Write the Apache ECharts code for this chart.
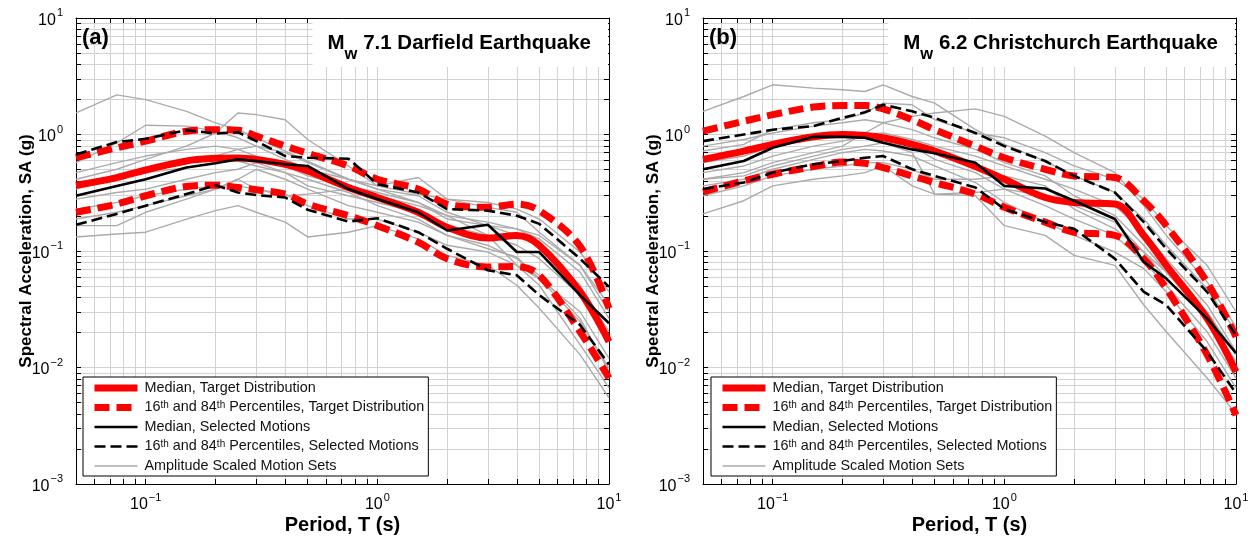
<!DOCTYPE html>
<html>
<head>
<meta charset="utf-8">
<script src="https://cdn.jsdelivr.net/npm/echarts@6/dist/echarts.min.js"></script>
<style>
  html, body { margin: 0; padding: 0; background: #fff; }
  #chart { width: 1257px; height: 540px; }
</style>
</head>
<body>
<div id="chart"></div>
<script>
// Spectral periods (s) at which every spectrum is sampled
const periods = [0.05, 0.075, 0.1, 0.15, 0.2, 0.25, 0.3, 0.4, 0.5, 0.75, 1, 1.5, 2, 3, 4, 5, 7.5, 10];

// (a) Mw 7.1 Darfield — target distribution, SA (g)
const targetMedianA = [0.367, 0.427, 0.496, 0.593, 0.624, 0.630, 0.612, 0.555, 0.487, 0.351, 0.288, 0.215, 0.160, 0.129, 0.136, 0.112, 0.0446, 0.0167];
const target84A     = [0.632, 0.769, 0.877, 1.067, 1.10, 1.09, 0.968, 0.795, 0.689, 0.537, 0.413, 0.340, 0.253, 0.237, 0.253, 0.222, 0.110, 0.0322];
const target16A     = [0.215, 0.253, 0.298, 0.358, 0.367, 0.351, 0.335, 0.308, 0.253, 0.201, 0.165, 0.119, 0.0859, 0.0729, 0.0735, 0.0619, 0.0203, 0.00813];
// (a) selected motions
const selMedianA = [0.298, 0.362, 0.413, 0.520, 0.566, 0.612, 0.592, 0.555, 0.537, 0.340, 0.279, 0.215, 0.150, 0.168, 0.098, 0.098, 0.0418, 0.024];
const sel84A     = [0.675, 0.861, 0.918, 1.09, 1.02, 1.047, 0.877, 0.653, 0.632, 0.620, 0.375, 0.318, 0.229, 0.222, 0.201, 0.171, 0.0859, 0.0492];
const sel16A     = [0.168, 0.208, 0.245, 0.308, 0.367, 0.318, 0.302, 0.288, 0.226, 0.179, 0.191, 0.145, 0.1045, 0.0683, 0.0619, 0.0418, 0.0232, 0.0106];
// (a) individual amplitude-scaled motions
const motionsA = [
  [1.53, 2.19, 1.99, 1.58, 1.26, 1.10, 0.937, 0.721, 0.592, 0.413, 0.340, 0.261, 0.188, 0.165, 0.136, 0.112, 0.0508, 0.0203],
  [0.413, 0.503, 0.612, 0.795, 1.03, 1.53, 1.48, 1.34, 0.906, 0.537, 0.362, 0.308, 0.279, 0.237, 0.215, 0.145, 0.0753, 0.0344],
  [0.573, 0.849, 1.20, 1.18, 1.07, 0.937, 0.795, 0.698, 0.573, 0.413, 0.340, 0.298, 0.215, 0.165, 0.155, 0.127, 0.0661, 0.0264],
  [0.132, 0.140, 0.145, 0.188, 0.222, 0.245, 0.215, 0.177, 0.132, 0.145, 0.165, 0.127, 0.0917, 0.0753, 0.0508, 0.0322, 0.0129, 0.0055],
  [0.165, 0.165, 0.215, 0.279, 0.340, 0.413, 0.340, 0.298, 0.308, 0.340, 0.298, 0.245, 0.201, 0.136, 0.0753, 0.0508, 0.0157, 0.00668],
  [0.340, 0.413, 0.503, 0.573, 0.653, 0.745, 0.795, 0.612, 0.503, 0.413, 0.362, 0.427, 0.279, 0.261, 0.229, 0.188, 0.098, 0.0446],
  [0.279, 0.318, 0.340, 0.413, 0.471, 0.503, 0.573, 0.471, 0.362, 0.298, 0.261, 0.215, 0.165, 0.136, 0.112, 0.0859, 0.0418, 0.0179],
  [0.471, 0.573, 0.653, 0.745, 0.795, 0.745, 0.653, 0.537, 0.441, 0.362, 0.318, 0.261, 0.201, 0.177, 0.155, 0.136, 0.0753, 0.0301],
  [0.229, 0.261, 0.298, 0.340, 0.362, 0.362, 0.340, 0.308, 0.245, 0.188, 0.188, 0.145, 0.112, 0.098, 0.0753, 0.058, 0.0301, 0.0120],
  [0.362, 0.413, 0.471, 0.520, 0.573, 0.592, 0.537, 0.471, 0.413, 0.318, 0.245, 0.188, 0.136, 0.112, 0.0859, 0.0619, 0.0264, 0.00927],
  [0.188, 0.215, 0.245, 0.298, 0.340, 0.413, 0.503, 0.413, 0.340, 0.245, 0.215, 0.177, 0.136, 0.1045, 0.089, 0.058, 0.0248, 0.0099]
];

// (b) Mw 6.2 Christchurch — target distribution, SA (g)
const targetMedianB = [0.612, 0.721, 0.822, 0.955, 1.00, 0.98, 0.937, 0.822, 0.721, 0.530, 0.413, 0.288, 0.261, 0.253, 0.136, 0.0753, 0.0264, 0.0092];
const target84B     = [1.07, 1.30, 1.48, 1.72, 1.77, 1.77, 1.66, 1.34, 1.10, 0.795, 0.632, 0.503, 0.441, 0.427, 0.270, 0.165, 0.054, 0.0184];
const target16B     = [0.322, 0.40, 0.456, 0.530, 0.580, 0.566, 0.520, 0.441, 0.387, 0.308, 0.237, 0.177, 0.145, 0.136, 0.0859, 0.0477, 0.0129, 0.0039];
// (b) selected motions
const selMedianB = [0.503, 0.592, 0.770, 0.955, 0.955, 0.937, 0.849, 0.745, 0.690, 0.573, 0.362, 0.344, 0.270, 0.188, 0.0804, 0.058, 0.0264, 0.0133];
const sel84B     = [0.877, 1.00, 1.10, 1.18, 1.39, 1.55, 1.80, 1.58, 1.39, 1.03, 0.795, 0.592, 0.441, 0.318, 0.177, 0.1045, 0.0446, 0.0189];
const sel16B     = [0.340, 0.387, 0.471, 0.555, 0.592, 0.632, 0.653, 0.503, 0.441, 0.351, 0.229, 0.177, 0.155, 0.0859, 0.0446, 0.0344, 0.0137, 0.006];
// (b) individual amplitude-scaled motions
const motionsB = [
  [1.58, 2.12, 2.67, 2.50, 2.42, 2.34, 2.67, 2.12, 1.86, 1.10, 0.822, 0.592, 0.441, 0.318, 0.188, 0.112, 0.0477, 0.0203],
  [0.413, 0.471, 0.573, 0.698, 0.795, 1.03, 1.26, 1.43, 1.53, 1.66, 1.43, 0.968, 0.698, 0.471, 0.245, 0.136, 0.0543, 0.0223],
  [0.208, 0.270, 0.362, 0.413, 0.441, 0.471, 0.537, 0.362, 0.308, 0.298, 0.165, 0.136, 0.0917, 0.0753, 0.0344, 0.0203, 0.00813, 0.0040],
  [0.721, 0.822, 1.10, 1.26, 1.34, 1.53, 1.86, 1.80, 1.34, 1.03, 0.937, 0.698, 0.537, 0.413, 0.279, 0.165, 0.0753, 0.0301],
  [0.413, 0.441, 0.537, 0.653, 0.745, 0.795, 0.849, 0.698, 0.308, 0.318, 0.340, 0.298, 0.245, 0.177, 0.098, 0.058, 0.0264, 0.0113],
  [0.573, 0.653, 0.795, 0.906, 0.968, 1.00, 1.03, 0.906, 0.795, 0.653, 0.537, 0.413, 0.340, 0.245, 0.145, 0.0859, 0.0344, 0.0137],
  [0.471, 0.537, 0.653, 0.795, 0.877, 0.968, 0.906, 0.795, 0.612, 0.471, 0.340, 0.245, 0.188, 0.136, 0.0804, 0.0508, 0.0203, 0.00813],
  [0.362, 0.413, 0.503, 0.612, 0.698, 0.745, 0.721, 0.653, 0.537, 0.387, 0.261, 0.177, 0.136, 0.098, 0.0706, 0.0446, 0.0167, 0.00668],
  [0.795, 0.906, 1.03, 1.18, 1.26, 1.34, 1.26, 1.10, 0.937, 0.745, 0.573, 0.441, 0.298, 0.201, 0.112, 0.0661, 0.0264, 0.0106],
  [0.298, 0.362, 0.441, 0.503, 0.537, 0.573, 0.573, 0.503, 0.413, 0.413, 0.441, 0.362, 0.229, 0.155, 0.098, 0.0661, 0.0301, 0.0129]
];

// Axis ranges and labelled decades
const periodRange = [0.05, 10];
const saRange = [0.001, 10];
const periodLabels = [0.1, 1, 10];
const saLabels = [0.001, 0.01, 0.1, 1, 10];

const panelTitles = ['7.1 Darfield Earthquake', '6.2 Christchurch Earthquake'];
const panelTags = ['(a)', '(b)'];

const NAME_MED_T = 'Median, Target Distribution';
const NAME_PCT_T = '16th and 84th Percentiles, Target Distribution';
const NAME_MED_S = 'Median, Selected Motions';
const NAME_PCT_S = '16th and 84th Percentiles, Selected Motions';
const NAME_SETS  = 'Amplitude Scaled Motion Sets';
const legendNames = [NAME_MED_T, NAME_PCT_T, NAME_MED_S, NAME_PCT_S, NAME_SETS];

const FONT = '"Liberation Sans", Arial, Helvetica, sans-serif';

// log-axis tick positions: 1..9 x 10^k inside a range
function logTicks(range) {
  const out = [];
  for (let e = -4; e <= 2; e++) {
    for (let m = 1; m <= 9; m++) {
      const v = parseFloat((m * Math.pow(10, e)).toPrecision(3));
      if (v >= range[0] - 1e-12 && v <= range[1] + 1e-12) out.push(v);
    }
  }
  return out;
}
const periodTicks = logTicks(periodRange);
const saTicks = logTicks(saRange);

function powLabel(v) {
  const e = Math.round(Math.log10(v));
  const ex = e < 0 ? '\u2212' + (-e) : String(e);
  return '{b|10}{s|' + ex + '}';
}
const labelRich = {
  b: { fontSize: 16, fontFamily: FONT, color: '#000', verticalAlign: 'top', padding: [5, 0, 0, 0] },
  s: { fontSize: 11, fontFamily: FONT, color: '#000', verticalAlign: 'top', padding: [0, 0, 0, 1] }
};

function makeAxis(kind, grid, position, main) {
  const isX = kind === 'x';
  const range = isX ? periodRange : saRange;
  const ticks = isX ? periodTicks : saTicks;
  const ax = {
    type: 'log', logBase: 10, gridIndex: grid, position: position,
    min: range[0], max: range[1],
    axisLine: { show: true, onZero: false, lineStyle: { color: '#000', width: 1 } },
    axisTick: { show: true, inside: true, length: 5, customValues: ticks, lineStyle: { color: '#000', width: 1 } },
    splitLine: { show: main, lineStyle: { color: '#d2d2d2', width: 1 } },
    minorTick: { show: false }, minorSplitLine: { show: false },
    axisLabel: { show: false },
    silent: true
  };
  if (main) {
    ax.axisLabel = {
      show: true, customValues: isX ? periodLabels : saLabels,
      formatter: powLabel, rich: labelRich, margin: isX ? 8 : 13,
      showMinLabel: true, showMaxLabel: true, hideOverlap: false
    };
    ax.name = isX ? 'Period, T (s)' : 'Spectral Acceleration, SA (g)';
    ax.nameLocation = 'middle';
    ax.nameMoveOverlap = false;
    ax.nameGap = isX ? 31 : 41;
    ax.nameTextStyle = { fontFamily: FONT, fontWeight: 'bold', fontSize: isX ? 20 : 17, color: '#000' };
  }
  return ax;
}

const pairs = vals => periods.map((t, i) => [t, vals[i]]);

function line(name, panel, vals, style, z, smooth) {
  return {
    type: 'line', name: name, xAxisIndex: panel * 2, yAxisIndex: panel * 2,
    data: pairs(vals), symbol: 'none', showSymbol: false, smooth: smooth || false,
    lineStyle: style, z: z, silent: true, animation: false, clip: true
  };
}

const redSolid  = { color: '#ff0000', width: 7, type: 'solid', cap: 'butt', join: 'round' };
const redDash   = { color: '#ff0000', width: 7, type: [15, 7], cap: 'butt', join: 'round' };
const blackSolid = { color: '#000000', width: 2.6, type: 'solid', join: 'round' };
const blackDash  = { color: '#000000', width: 2.6, type: [11, 5], cap: 'butt', join: 'round' };
const grayLine   = { color: '#ababab', width: 1.4, type: 'solid' };

const panels = [
  { motions: motionsA, tMed: targetMedianA, t84: target84A, t16: target16A, sMed: selMedianA, s84: sel84A, s16: sel16A },
  { motions: motionsB, tMed: targetMedianB, t84: target84B, t16: target16B, sMed: selMedianB, s84: sel84B, s16: sel16B }
];

const series = [];
panels.forEach((p, k) => {
  p.motions.forEach(m => series.push(line(NAME_SETS, k, m, grayLine, 2)));
  series.push(line(NAME_MED_T, k, p.tMed, redSolid, 3, 0.35));
  series.push(line(NAME_PCT_T, k, p.t84, redDash, 3, 0.35));
  series.push(line(NAME_PCT_T, k, p.t16, redDash, 3, 0.35));
  series.push(line(NAME_MED_S, k, p.sMed, blackSolid, 4));
  series.push(line(NAME_PCT_S, k, p.s84, blackDash, 4));
  series.push(line(NAME_PCT_S, k, p.s16, blackDash, 4));
});

const grids = [
  { left: 76, top: 18, width: 533, height: 469 },
  { left: 703, top: 18, width: 533, height: 469 }
];

const legendFormatter = name => {
  const parts = name.split(/(\d+)th/);
  let out = '';
  parts.forEach((s, i) => {
    if (s === '') return;
    if (i % 2 === 1) out += '{n|' + s + '}{sup|th}';
    else out += '{n|' + s + '}';
  });
  return out;
};
const legendRich = {
  n: { fontSize: 14.4, fontFamily: FONT, color: '#111', verticalAlign: 'bottom' },
  sup: { fontSize: 10, fontFamily: FONT, color: '#111', verticalAlign: 'top' }
};
function makeLegend(left) {
  return {
    left: left, top: 377, orient: 'vertical', data: legendNames,
    itemWidth: 43, itemHeight: 12, itemGap: 5.5, selectedMode: false,
    padding: [4, 4, 3, 8], borderColor: '#000', borderWidth: 1, backgroundColor: '#fff',
    borderRadius: 0, formatter: legendFormatter,
    lineStyle: { width: 'inherit', type: 'inherit' },
    itemStyle: { opacity: 0 },
    textStyle: { rich: legendRich, padding: [0, 0, 0, 2] },
    z: 10
  };
}

const titleRich = {
  m: { fontSize: 20.5, fontWeight: 'bold', fontFamily: FONT, color: '#000', verticalAlign: 'bottom', padding: [0, 0, 9, 0] },
  w: { fontSize: 16.5, fontWeight: 'bold', fontFamily: FONT, color: '#000', verticalAlign: 'bottom' }
};
const titles = [];
[0, 1].forEach(k => {
  const g = grids[k];
  titles.push({
    text: panelTags[k], left: g.left + 6, top: 27, padding: 0,
    textStyle: { fontFamily: FONT, fontWeight: 'bold', fontSize: 22, color: '#000' }, z: 8
  });
  titles.push({
    text: '{m|M}{w|w}{m| ' + panelTitles[k] + '}',
    right: 1257 - (g.left + g.width) + 1, top: 19,
    padding: [14, 17, 4, 15], backgroundColor: '#fff',
    textStyle: { rich: titleRich }, z: 8
  });
});

const chart = echarts.init(document.getElementById('chart'), null, { renderer: 'canvas' });
chart.setOption({
  backgroundColor: '#fff',
  animation: false,
  textStyle: { fontFamily: FONT },
  title: titles,
  grid: grids,
  xAxis: [
    makeAxis('x', 0, 'bottom', true), makeAxis('x', 0, 'top', false),
    makeAxis('x', 1, 'bottom', true), makeAxis('x', 1, 'top', false)
  ],
  yAxis: [
    makeAxis('y', 0, 'left', true), makeAxis('y', 0, 'right', false),
    makeAxis('y', 1, 'left', true), makeAxis('y', 1, 'right', false)
  ],
  legend: [makeLegend(83), makeLegend(711)],
  series: series
});
</script>
</body>
</html>
